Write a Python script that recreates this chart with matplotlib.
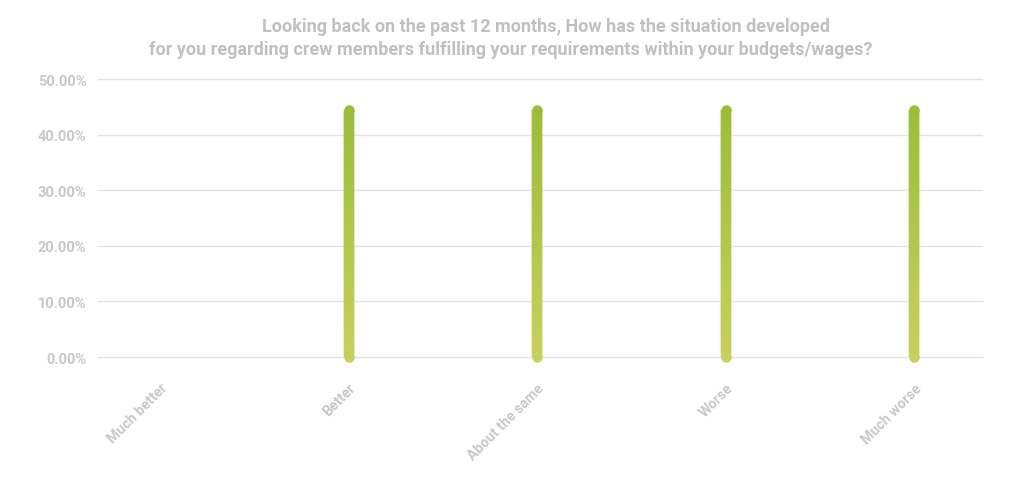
import matplotlib
matplotlib.use('Agg')
import matplotlib.pyplot as plt
import numpy as np
from matplotlib.collections import LineCollection
from matplotlib.colors import LinearSegmentedColormap

plt.rcParams['font.family'] = ['Roboto', 'DejaVu Sans']

# Data
categories = ['Much better', 'Better', 'About the same', 'Worse', 'Much worse']
values = [0.0, 44.4, 44.4, 44.4, 44.4]
yticks = [0, 10, 20, 30, 40, 50]
title_1 = 'Looking back on the past 12 months, How has the situation developed'
title_2 = 'for you regarding crew members fulfilling your requirements within your budgets/wages?'

top_col = '#9bbd3a'
bot_col = '#c6d05c'
cmap = LinearSegmentedColormap.from_list('bar', [bot_col, top_col])
label_col = '#c8c8c8'

fig = plt.figure(figsize=(10.24, 4.85), dpi=100)
ax = fig.add_axes([98 / 1024, 1 - 358 / 485, 884 / 1024, 278 / 485])

ax.set_xlim(-0.33, 4.36)
ax.set_ylim(0, 50)

# Grid lines
for t in yticks:
    ax.axhline(t, color='#e3e3e3', lw=1, zorder=0, clip_on=False)

lw = 7.5
for i, v in enumerate(values):
    if v <= 0:
        continue
    # gradient body, segments overlap to hide seams
    ys = np.linspace(0, v, 80)
    n = len(ys)
    segs = [[(i, ys[k]), (i, ys[min(k + 2, n - 1)])] for k in range(n - 1)]
    lc = LineCollection(segs, colors=cmap(ys[:-1] / v), linewidths=lw,
                        capstyle='butt', zorder=3)
    ax.add_collection(lc)
    # round ends
    ax.plot([i], [0], 'o', ms=lw, mew=0, color=bot_col, clip_on=False, zorder=4)
    ax.plot([i], [v], 'o', ms=lw, mew=0, color=top_col, clip_on=False, zorder=4)

ax.set_yticks(yticks)
ax.set_yticklabels(['%.2f%%' % t for t in yticks])
ax.set_xticks(range(len(categories)))
ax.set_xticklabels(categories, rotation=45, ha='right', rotation_mode='anchor')
ax.tick_params(axis='y', length=0, pad=8.5, labelsize=10.5, labelcolor=label_col)
ax.tick_params(axis='x', length=0, pad=17, labelsize=10.3, labelcolor=label_col)
for lab in ax.get_xticklabels() + ax.get_yticklabels():
    lab.set_fontweight('bold')

for s in ax.spines.values():
    s.set_visible(False)

fig.text(546 / 1024, 1 - 27 / 485, title_1, ha='center', va='center',
         fontsize=13, fontweight='bold', color='#c0c0c0')
fig.text(511 / 1024, 1 - 50 / 485, title_2, ha='center', va='center',
         fontsize=13, fontweight='bold', color='#c0c0c0')

fig.savefig('out.png', dpi=100)
